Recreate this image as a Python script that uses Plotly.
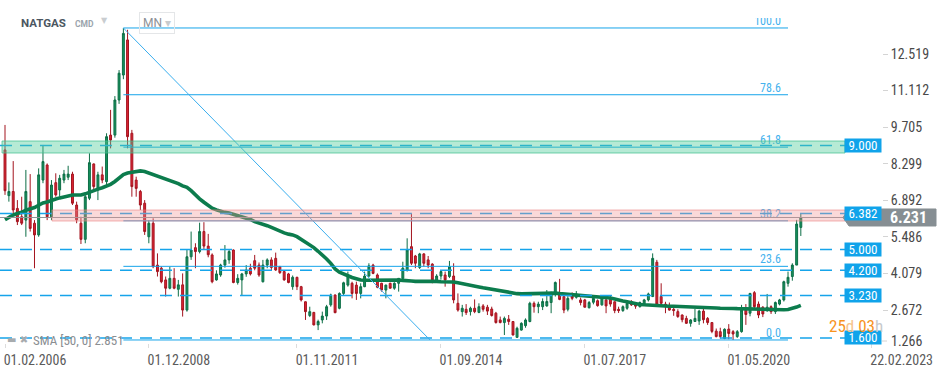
import pandas as pd
import plotly.graph_objects as go

# ---------------- data (monthly candles, NATGAS CFD, Feb 2006 – Oct 2021) ----------------
symbol = "NATGAS"
start_month = "2006-02-01"

opens = [
    8.83, 7.07, 7.23, 6.58, 6.26, 6.13, 6.84, 6.01, 5.56, 7.67, 8.25,                 # 2006
    6.26, 7.57, 7.29, 7.67, 7.78, 7.90, 6.71, 6.01, 5.39, 6.97, 8.29, 7.29,           # 2007
    7.87, 7.61, 9.40, 9.40, 10.75, 11.71, 13.06, 9.47, 7.67, 7.23, 6.78, 5.49,        # 2008
    6.01, 4.40, 4.28, 3.83, 3.51, 3.89, 3.47, 3.64, 2.67, 4.72, 5.07, 4.92,           # 2009
    5.69, 5.13, 4.79, 3.83, 4.02, 4.40, 4.60, 4.98, 3.73, 3.83, 4.06, 4.28,           # 2010
    4.57, 4.40, 3.76, 4.40, 4.60, 4.66, 4.34, 4.15, 4.06, 3.57, 3.93, 3.57,           # 2011
    2.99, 2.46, 2.58, 2.10, 2.29, 2.44, 2.87, 3.25, 2.74, 3.31, 3.63, 3.70,           # 2012
    3.63, 3.31, 3.57, 3.98, 4.40, 4.02, 3.70, 3.44, 3.70, 3.51, 3.70, 3.89,           # 2013
    4.21, 5.11, 4.75, 4.31, 4.83, 4.60, 4.44, 3.80, 3.98, 4.02, 3.96, 3.98,           # 2014
    2.93, 2.61, 2.70, 2.61, 2.74, 2.58, 2.83, 2.78, 2.71, 2.55, 2.29, 2.19,           # 2015
    2.32, 2.23, 1.62, 1.90, 2.07, 2.23, 2.93, 2.80, 2.80, 2.83, 2.96, 3.31,           # 2016
    3.29, 3.19, 2.70, 3.25, 3.16, 3.06, 3.06, 2.76, 2.97, 3.03, 2.87, 3.06,           # 2017
    3.08, 2.99, 2.70, 2.65, 2.74, 3.00, 2.90, 2.80, 2.87, 3.06, 3.19, 4.51,           # 2018
    3.19, 2.90, 2.78, 2.70, 2.61, 2.48, 2.35, 2.16, 2.23, 2.25, 2.63, 2.35,           # 2019
    2.19, 1.86, 1.84, 1.58, 1.94, 1.84, 1.65, 1.84, 2.67, 2.55, 3.34, 2.90,           # 2020
    2.78, 2.65, 2.80, 2.61, 2.90, 3.06, 3.70, 3.96, 4.40, 5.85,                       # 2021
]
highs = [
    9.79, 7.58, 8.40, 6.90, 7.03, 8.06, 7.90, 6.13, 8.12, 9.02, 8.31,
    7.67, 7.93, 7.87, 8.06, 8.22, 7.99, 6.84, 6.26, 7.16, 8.70, 8.31, 7.99,
    8.19, 9.47, 10.37, 10.90, 11.90, 13.52, 13.45, 9.60, 7.80, 7.29, 6.90, 6.13,
    6.20, 4.85, 4.34, 3.96, 4.34, 4.28, 3.83, 4.08, 4.98, 5.69, 5.24, 6.03,
    6.05, 5.60, 4.85, 4.20, 4.45, 5.17, 4.98, 5.00, 4.05, 4.10, 4.40, 4.45,
    4.79, 4.50, 4.60, 4.66, 4.70, 4.88, 4.37, 4.20, 4.10, 4.00, 3.95, 3.60,
    3.00, 2.80, 2.60, 2.30, 2.61, 2.87, 3.30, 3.27, 3.35, 3.76, 4.15, 3.76,
    3.76, 3.70, 4.15, 4.47, 4.45, 4.08, 3.72, 3.65, 3.72, 3.74, 3.90, 4.53,
    5.43, 6.37, 4.79, 4.87, 4.86, 4.75, 4.47, 4.05, 4.20, 4.15, 4.56, 4.47,
    3.31, 2.87, 2.90, 2.80, 3.08, 2.93, 2.90, 2.87, 2.80, 2.60, 2.42, 2.42,
    2.48, 2.24, 2.03, 2.20, 2.35, 2.99, 3.00, 2.99, 3.12, 3.44, 3.38, 3.77,
    3.87, 3.22, 3.20, 3.35, 3.40, 3.15, 3.10, 3.02, 3.18, 3.08, 3.22, 3.19,
    3.21, 3.00, 2.80, 2.85, 3.00, 3.05, 2.96, 3.00, 3.10, 3.34, 4.85, 4.60,
    3.70, 2.99, 2.96, 2.76, 2.70, 2.50, 2.45, 2.32, 2.72, 2.68, 2.80, 2.40,
    2.20, 1.96, 1.99, 1.97, 2.13, 1.90, 1.90, 2.87, 2.90, 3.33, 3.40, 3.00,
    2.82, 3.29, 2.85, 3.00, 3.10, 3.80, 4.15, 4.47, 6.14, 6.40,
]
lows = [
    7.10, 6.84, 6.39, 5.94, 5.94, 5.49, 5.69, 4.28, 5.49, 7.55, 6.13,
    6.13, 7.03, 7.03, 7.55, 7.67, 6.71, 6.01, 5.21, 5.24, 6.90, 7.29, 6.90,
    7.55, 7.48, 8.89, 9.30, 10.60, 11.55, 8.89, 7.03, 7.03, 6.52, 5.56, 5.24,
    4.28, 3.96, 3.70, 3.19, 3.47, 3.47, 3.19, 2.42, 2.61, 4.60, 4.28, 4.85,
    5.00, 4.70, 3.70, 3.80, 3.95, 4.30, 4.45, 3.70, 3.65, 3.25, 3.95, 4.00,
    4.20, 3.95, 3.73, 4.28, 4.20, 4.18, 4.06, 3.80, 3.70, 3.45, 3.44, 3.00,
    2.29, 2.40, 2.08, 1.90, 2.16, 2.29, 2.80, 2.55, 2.70, 3.25, 3.57, 3.12,
    3.06, 3.12, 3.55, 3.93, 4.05, 3.51, 3.38, 3.12, 3.50, 3.45, 3.38, 3.83,
    4.15, 4.40, 4.28, 4.25, 4.34, 4.28, 3.70, 3.74, 3.84, 3.57, 3.90, 2.93,
    2.61, 2.42, 2.48, 2.46, 2.55, 2.55, 2.61, 2.48, 2.42, 2.15, 2.16, 1.71,
    2.10, 1.70, 1.61, 1.88, 1.99, 2.20, 2.57, 2.55, 2.67, 2.80, 2.55, 3.19,
    3.05, 2.55, 2.62, 3.05, 3.11, 2.85, 2.77, 2.73, 2.89, 2.80, 2.84, 2.55,
    2.80, 2.55, 2.56, 2.60, 2.68, 2.83, 2.72, 2.77, 2.84, 3.00, 3.17, 2.80,
    2.80, 2.55, 2.65, 2.45, 2.37, 2.20, 2.14, 2.03, 2.21, 2.10, 2.16, 2.10,
    1.78, 1.62, 1.58, 1.55, 1.55, 1.52, 1.60, 1.80, 2.10, 2.43, 2.70, 2.36,
    2.40, 2.60, 2.52, 2.52, 2.85, 3.00, 3.57, 3.80, 4.40, 5.52,
]
closes = [
    7.26, 7.23, 6.52, 6.07, 6.01, 7.23, 5.81, 5.56, 7.87, 8.38, 6.26,
    7.48, 7.10, 7.74, 7.90, 7.90, 6.78, 6.14, 5.39, 7.03, 8.34, 7.42, 7.87,
    7.67, 9.34, 9.21, 10.75, 11.78, 13.31, 9.34, 7.42, 7.35, 6.71, 5.69, 6.01,
    4.34, 4.15, 3.76, 3.51, 3.89, 3.51, 3.64, 2.67, 4.72, 4.98, 4.92, 5.69,
    5.13, 4.80, 3.76, 4.06, 4.40, 4.60, 4.92, 3.73, 3.89, 4.06, 4.21, 4.06,
    4.28, 4.02, 4.40, 4.60, 4.31, 4.21, 4.11, 3.83, 3.73, 3.93, 3.57, 3.06,
    2.61, 2.61, 2.10, 2.23, 2.44, 2.80, 3.25, 2.57, 3.31, 3.72, 4.02, 3.31,
    3.31, 3.57, 3.98, 4.37, 4.08, 3.55, 3.44, 3.63, 3.51, 3.70, 3.89, 4.28,
    4.98, 4.47, 4.47, 4.83, 4.47, 4.40, 3.83, 3.98, 4.15, 3.83, 4.34, 3.06,
    2.67, 2.74, 2.57, 2.74, 2.61, 2.80, 2.70, 2.63, 2.46, 2.19, 2.19, 2.35,
    2.23, 1.71, 1.97, 2.16, 2.29, 2.93, 2.80, 2.90, 3.00, 3.00, 3.31, 3.73,
    3.08, 2.67, 3.12, 3.12, 3.29, 2.96, 2.78, 2.96, 3.12, 2.84, 3.15, 2.83,
    2.90, 2.65, 2.65, 2.80, 2.93, 2.87, 2.82, 2.96, 3.06, 3.29, 4.66, 2.90,
    2.93, 2.80, 2.67, 2.65, 2.42, 2.30, 2.16, 2.29, 2.35, 2.63, 2.30, 2.19,
    1.85, 1.65, 1.65, 1.93, 1.77, 1.75, 1.84, 2.67, 2.50, 3.31, 2.80, 2.48,
    2.52, 2.78, 2.61, 2.96, 3.06, 3.76, 3.93, 4.40, 5.98, 6.231,
]
# monthly closes Jan 2002 – Jan 2006, only used to warm up the 50-period SMA
history_closes = [
    2.14, 2.39, 3.28, 3.79, 3.21, 3.25, 2.97, 3.29, 4.14, 4.32, 4.03, 4.79,
    5.61, 6.39, 5.06, 5.45, 6.28, 5.42, 4.74, 4.92, 4.83, 4.86, 5.05, 6.19,
    5.70, 5.38, 5.93, 5.87, 6.37, 6.16, 6.06, 5.07, 6.76, 8.72, 7.63, 6.15,
    6.28, 6.70, 7.65, 6.67, 6.35, 6.98, 7.65, 11.47, 13.92, 12.21, 11.82, 11.23,
    8.80,
]
sma_period = 50

levels = [9.000, 6.382, 5.000, 4.200, 3.230, 1.600]
level_labels = ["9.000", "6.382", "5.000", "4.200", "3.230", "1.600"]
current_price = 6.231
green_zone = [8.711, 9.173]
red_zone = [6.096, 6.519]
fib_ratios = [1.0, 0.786, 0.618, 0.382, 0.236, 0.0]
fib_labels = ["100.0", "78.6", "61.8", "38.2", "23.6", "0.0"]

x_tick_dates = ["2006-02-01", "2008-12-01", "2011-11-01", "2014-09-01",
                "2017-07-01", "2020-05-01", "2023-02-22"]
x_tick_labels = ["01.02.2006", "01.12.2008", "01.11.2011", "01.09.2014",
                 "01.07.2017", "01.05.2020", "22.02.2023"]
y_tick_vals = [12.519, 11.112, 9.705, 8.299, 6.892, 5.486, 4.079, 2.672]
y_tick_labels = ["12.519", "11.112", "9.705", "8.299", "6.892", "5.486", "4.079", "2.672"]
y_bottom_label = 1.266

# ---------------- geometry helpers ----------------
W, H = 950, 371
NARROW = "Liberation Sans Narrow, Arial Narrow, Roboto Condensed, Roboto, sans-serif"
PLOT_RIGHT = 882
PLOT_TOP, PLOT_BOTTOM = 18, 343
PX_PER_UNIT = 26.0
REF_PRICE, REF_PX = 12.519, 54


def y2p(ypx):
    return REF_PRICE - (ypx - REF_PX) / PX_PER_UNIT


base = pd.Timestamp(start_month)
px_per_day = 4.234 / 30.4375


def px2date(px):
    return base + pd.Timedelta(days=(px - 5) / px_per_day)


def fx(px):
    return px / W


def fy(py):
    return (H - py) / H


dates = pd.date_range(start_month, periods=len(closes), freq="MS")
all_closes = pd.Series(history_closes + closes)
sma = all_closes.rolling(sma_period).mean().iloc[len(history_closes):].to_numpy()

fib_high = max(highs)
fib_low = min(lows)
fib_prices = [fib_low + r * (fib_high - fib_low) for r in fib_ratios]
high_date = dates[highs.index(fib_high)]

fig = go.Figure()
fig.add_trace(go.Candlestick(
    x=dates, open=opens, high=highs, low=lows, close=closes,
    increasing=dict(line=dict(color="#0d6e46", width=1), fillcolor="#16915d"),
    decreasing=dict(line=dict(color="#a3141f", width=1), fillcolor="#dc2433"),
    whiskerwidth=0, hoverinfo="skip", showlegend=False,
))
fig.add_trace(go.Scatter(
    x=dates, y=sma, mode="lines", line=dict(color="#0c7c4d", width=3.6),
    hoverinfo="skip", showlegend=False,
))
fig.add_trace(go.Scatter(
    x=[px2date(781)] * len(fib_prices), y=fib_prices, mode="text", text=fib_labels,
    textposition="top left", textfont=dict(color="#45b2ee", size=12, family=NARROW),
    cliponaxis=True, hoverinfo="skip", showlegend=False,
))

shapes = []
blue = "#16a4ea"
for lv in levels:
    shapes.append(dict(type="line", xref="paper", yref="y", x0=0, x1=fx(845), y0=lv, y1=lv,
                       line=dict(color=blue, width=1.5, dash="12px,8px"), layer="above"))
for fp in fib_prices:
    shapes.append(dict(type="line", xref="x", yref="y", x0=high_date, x1=px2date(788), y0=fp, y1=fp,
                       line=dict(color=blue, width=1), layer="above"))
shapes.append(dict(type="line", xref="x", yref="y", x0=high_date, y0=fib_high, x1=px2date(430), y1=fib_low,
                   line=dict(color="#3aaeee", width=1), layer="above"))
shapes.append(dict(type="line", xref="paper", yref="y", x0=0, x1=fx(848), y0=current_price, y1=current_price,
                   line=dict(color="#8d9499", width=1), layer="above"))
shapes.append(dict(type="rect", xref="paper", yref="y", x0=fx(2), x1=fx(845), y0=green_zone[0], y1=green_zone[1],
                   fillcolor="rgba(80,205,155,0.42)", line=dict(color="rgba(60,190,140,0.7)", width=1), layer="above"))
shapes.append(dict(type="rect", xref="paper", yref="y", x0=fx(52), x1=fx(845), y0=red_zone[0], y1=red_zone[1],
                   fillcolor="rgba(240,150,150,0.36)", line=dict(color="rgba(235,130,130,0.6)", width=1), layer="above"))
# current price tag (arrow box)
pt = current_price + 8.5 / PX_PER_UNIT
pb = current_price - 8.5 / PX_PER_UNIT
shapes.append(dict(type="path", xref="paper", yref="y", layer="above",
                   path=f"M {fx(849)},{pt} L {fx(936)},{pt} L {fx(936)},{pb} L {fx(849)},{pb} L {fx(843)},{current_price} Z",
                   fillcolor="#868e93", line=dict(color="#868e93", width=1)))
# tick mark for the bottom price label (outside the plotted range)
shapes.append(dict(type="line", xref="paper", yref="paper", x0=fx(882), x1=fx(887),
                   y0=fy(341), y1=fy(341), line=dict(color="#d4d4d4", width=1)))

ann = []
for lv, lb in zip(levels, level_labels):
    ann.append(dict(xref="paper", yref="y", x=fx(863), y=lv, text=lb, showarrow=False,
                    font=dict(color="white", size=13, family=NARROW), bgcolor="#10a3ea",
                    width=36, height=13, borderpad=0, xanchor="center", yanchor="middle"))
ann.append(dict(xref="paper", yref="y", x=fx(888), y=current_price, text="<b>" + f"{current_price:.3f}" + "</b>",
                showarrow=False, xanchor="left", yanchor="middle",
                font=dict(color="white", size=16, family=NARROW)))
ann.append(dict(xref="paper", yref="paper", x=fx(889), y=fy(341), text=f"{y_bottom_label:.3f}",
                showarrow=False, xanchor="left", yanchor="middle",
                font=dict(color="#4a4a4a", size=14, family=NARROW)))
ann.append(dict(xref="paper", yref="paper", x=fx(19), y=fy(23), text="<b>" + symbol + "</b>", showarrow=False,
                xanchor="left", yanchor="middle", font=dict(color="#4b5661", size=11.5, family="Roboto")))
ann.append(dict(xref="paper", yref="paper", x=fx(73), y=fy(24), text="<b>CMD</b>", showarrow=False,
                xanchor="left", yanchor="middle", font=dict(color="#9aa4ac", size=8.5, family="Roboto")))
ann.append(dict(xref="paper", yref="paper", x=fx(99), y=fy(21), text="▼", showarrow=False,
                xanchor="left", yanchor="middle", font=dict(color="#c9cdd0", size=8, family="DejaVu Sans")))
ann.append(dict(xref="paper", yref="paper", x=fx(139), y=fy(23),
                text="MN <span style='color:#c8cbce'>▾</span>", showarrow=False,
                xanchor="left", yanchor="middle", bordercolor="#e4e6e8", borderwidth=1, borderpad=3,
                font=dict(color="#8c9196", size=12, family="Roboto")))
ann.append(dict(xref="paper", yref="paper", x=fx(5), y=fy(339), text="▬ ✖", showarrow=False,
                xanchor="left", yanchor="middle", font=dict(color="#a7abae", size=10, family="DejaVu Sans")))
ann.append(dict(xref="paper", yref="paper", x=fx(31), y=fy(340), text=f"SMA [{sma_period}, 0] {sma[-1]:.3f}",
                showarrow=False, xanchor="left", yanchor="middle",
                font=dict(color="#8a8e92", size=13, family=NARROW)))
ann.append(dict(xref="paper", yref="paper", x=fx(827), y=fy(326),
                text="<span style='color:#f7931e'>25</span><span style='color:#f6c48e'>d</span>"
                     "<span style='color:#f7931e'> 03</span><span style='color:#c7c9cb'>h</span>",
                showarrow=False, xanchor="left", yanchor="middle", font=dict(size=17, family=NARROW)))

fig.update_layout(
    width=W, height=H, margin=dict(l=0, r=0, t=0, b=0, pad=0, autoexpand=False),
    autosize=False,
    paper_bgcolor="white", plot_bgcolor="white", showlegend=False,
    shapes=shapes, annotations=ann, hovermode=False,
    xaxis=dict(type="date", range=[px2date(0), px2date(PLOT_RIGHT)], domain=[0, fx(PLOT_RIGHT)],
               automargin=False,
               showgrid=False, zeroline=False, showline=False, rangeslider=dict(visible=False),
               tickvals=x_tick_dates, ticktext=x_tick_labels, ticks="outside", ticklen=4,
               tickcolor="#dcdcdc", ticklabelshift=30,
               tickfont=dict(size=14, color="#5b5b5b", family=NARROW)),
    yaxis=dict(range=[y2p(PLOT_BOTTOM), y2p(PLOT_TOP)], domain=[fy(PLOT_BOTTOM), fy(PLOT_TOP)],
               automargin=False,
               side="right", showgrid=False, zeroline=False, showline=False,
               tickvals=y_tick_vals, ticktext=y_tick_labels, ticks="outside", ticklen=5,
               tickcolor="#d4d4d4", tickfont=dict(size=14, color="#4a4a4a", family=NARROW)),
)

fig.write_html("out.html", config={"displayModeBar": False},
               post_script="document.body.style.margin='0px';")
